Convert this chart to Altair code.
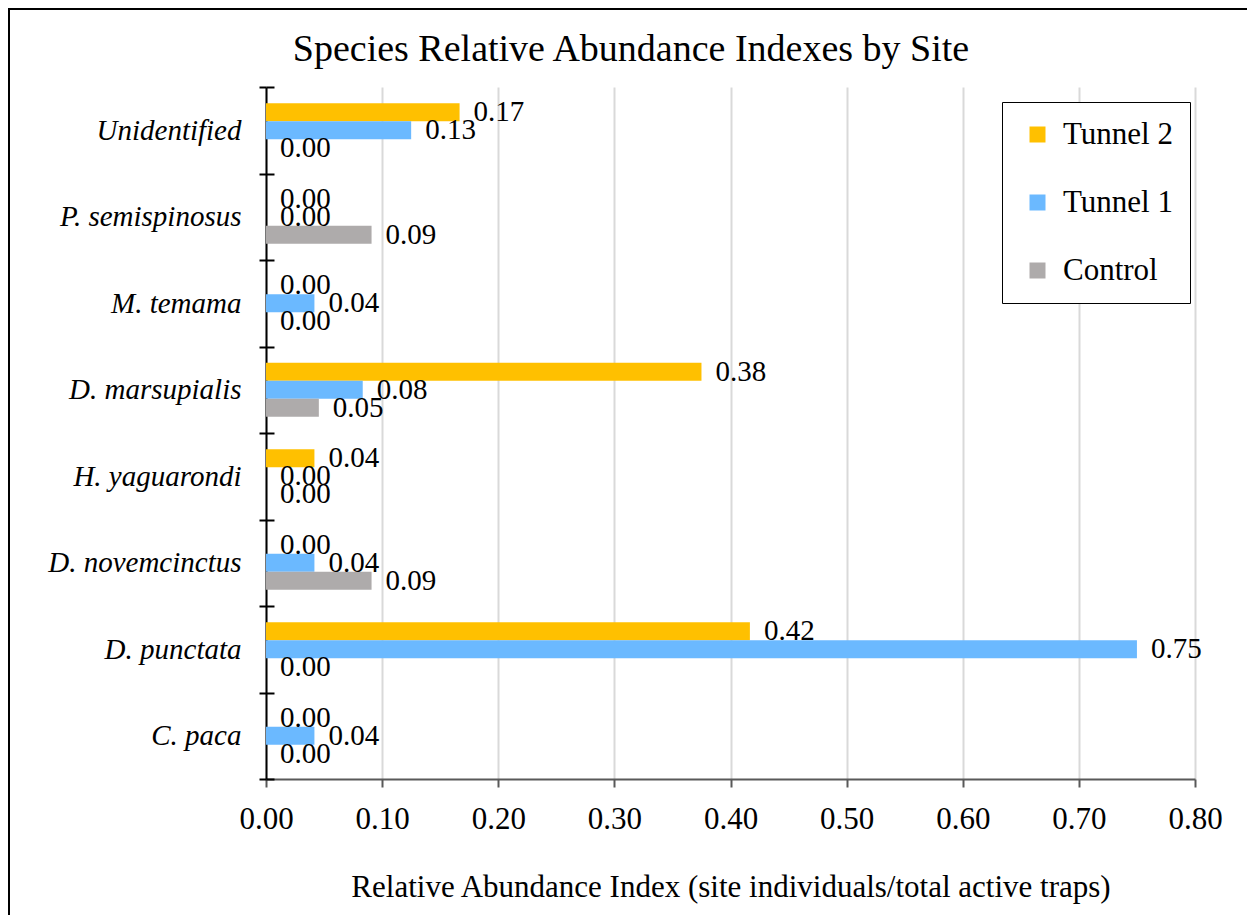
import altair as alt
import pandas as pd

species = ["Unidentified", "P. semispinosus", "M. temama", "D. marsupialis",
           "H. yaguarondi", "D. novemcinctus", "D. punctata", "C. paca"]
series = ["Tunnel 2", "Tunnel 1", "Control"]
tunnel2 = [0.1667, 0.0, 0.0, 0.375, 0.0417, 0.0, 0.4167, 0.0]
tunnel1 = [0.125, 0.0, 0.0417, 0.0833, 0.0, 0.0417, 0.75, 0.0417]
control = [0.0, 0.0909, 0.0, 0.0455, 0.0, 0.0909, 0.0, 0.0]
colors = ["#FFC000", "#6BB9FF", "#AEABAB"]
x_ticks = [0.0, 0.1, 0.2, 0.3, 0.4, 0.5, 0.6, 0.7, 0.8]
chart_title = "Species Relative Abundance Indexes by Site"
x_title = "Relative Abundance Index (site individuals/total active traps)"

rows = []
for name, vals in zip(series, [tunnel2, tunnel1, control]):
    for sp, v in zip(species, vals):
        rows.append({"species": sp, "series": name, "value": v})
df = pd.DataFrame(rows)

FONT = "Liberation Serif, Times New Roman, serif"

xenc = alt.X(
    "value:Q",
    scale=alt.Scale(domain=[0, 0.8], nice=False),
    axis=alt.Axis(
        values=x_ticks, format=".2f", labelFont=FONT, labelFontSize=31,
        labelColor="black", tickColor="#595959", tickSize=8, tickWidth=2,
        domainColor="#595959", domainWidth=2, gridColor="#d9d9d9", gridWidth=2,
        labelPadding=17, labelFlush=False, title=x_title,
        titleFont=FONT, titleFontSize=31, titleFontWeight="normal",
        titleColor="black", titlePadding=38,
    ),
)

yscale = alt.Scale(domain=species, paddingInner=0, paddingOuter=0)
yoffscale = alt.Scale(domain=series, paddingInner=0, paddingOuter=0.903)

bars = alt.Chart(df).mark_bar().encode(
    x=xenc,
    y=alt.Y(
        "species:N", scale=yscale, sort=species,
        axis=alt.Axis(
            title=None, labelFont=FONT, labelFontSize=29, labelFontStyle="italic",
            labelColor="black", domainColor="black", domainWidth=2,
            tickColor="black", tickWidth=2, tickSize=7, tickBand="extent",
            labelPadding=18, labelLimit=400, grid=False,
        ),
    ),
    yOffset=alt.YOffset("series:N", scale=yoffscale),
    color=alt.Color(
        "series:N",
        scale=alt.Scale(domain=series, range=colors),
        legend=alt.Legend(
            title=None, orient="none", legendX=736, legendY=15,
            symbolType="square", symbolSize=256, symbolStrokeWidth=0,
            symbolOpacity=1, labelFont=FONT, labelFontSize=31,
            labelColor="black", strokeColor="black", fillColor="white",
            padding=17, rowPadding=36, symbolOffset=3, labelOffset=10,
        ),
    ),
)

labels = alt.Chart(df).mark_text(
    align="left", baseline="middle", dx=14, fontSize=29, font=FONT, color="black"
).encode(
    x=alt.X("value:Q"),
    y=alt.Y(
        "species:N", scale=yscale, sort=species,
        axis=alt.Axis(
            orient="left", offset=-8, labels=False, domain=False, tickSize=8,
            tickColor="black", tickWidth=2, tickBand="extent", grid=False,
            title=None,
        ),
    ),
    yOffset=alt.YOffset("series:N", scale=yoffscale),
    text=alt.Text("value:Q", format=".2f"),
)

one = pd.DataFrame({"a": [0]})

frame = alt.Chart(one).mark_rect(
    fillOpacity=0, stroke="black", strokeWidth=2
).encode(
    x=alt.value(-257), x2=alt.value(1100), y=alt.value(-78), y2=alt.value(900)
)

title = alt.Chart(one).mark_text(
    text=chart_title, font=FONT, fontSize=38, color="black",
    align="center", baseline="alphabetic",
).encode(x=alt.value(365), y=alt.value(-26))

chart = alt.layer(frame, title, bars, labels).resolve_axis(y="independent").properties(
    width=929,
    height=692,
    autosize=alt.AutoSizeParams(type="none"),
    padding={"left": 258, "top": 79, "right": 52, "bottom": 136},
).configure_view(stroke=None)

chart.save("out.html", embed_options={"renderer": "svg", "actions": False})
